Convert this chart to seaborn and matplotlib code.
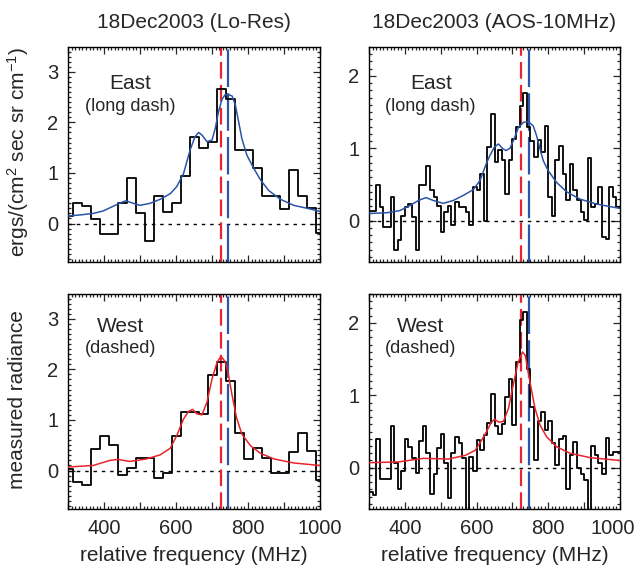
import numpy as np
import matplotlib
matplotlib.use('Agg')
import matplotlib.pyplot as plt
from matplotlib.ticker import MultipleLocator, FuncFormatter
from matplotlib.transforms import ScaledTranslation
import seaborn as sns

sns.set_style('ticks')
plt.rcParams['font.family'] = ['Liberation Sans', 'DejaVu Sans']
plt.rcParams['mathtext.fontset'] = 'custom'
plt.rcParams['mathtext.rm'] = 'Liberation Sans'
plt.rcParams['mathtext.it'] = 'Liberation Sans:italic'
plt.rcParams['lines.scale_dashes'] = False

# line centre markers (MHz)
west_center = 725
east_center = 745

# Lo-Res spectra: 25 MHz bins (first and last bins cut by the axis)
lores_edges = np.concatenate([[300], np.arange(315, 991, 25), [1000]])
east_lores = [0.15, 0.40, 0.34, 0.09, -0.20, -0.20, 0.40, 0.91, 0.20, -0.35,
              0.54, 0.23, 0.41, 0.94, 1.71, 1.50, 1.61, 2.65, 2.46, 1.45,
              1.45, 1.09, 0.54, 0.54, 0.28, 1.06, 0.55, 0.30, -0.18]
west_lores = [0.03, -0.23, -0.28, 0.42, 0.69, 0.51, -0.08, 0.05, 0.24, 0.24,
              -0.15, -0.05, 0.68, 1.15, 1.15, 1.12, 1.89, 2.15, 1.78, 0.74,
              0.23, 0.44, 0.24, -0.05, -0.05, 0.36, 0.74, 0.38, -0.18]

# AOS spectra: 10 MHz bins (first bin lies just left of the axis)
aos_edges = np.arange(290, 1001, 10)
east_aos = [-0.52,
            0.13, 0.13, 0.50, 0.19, -0.09, -0.09, 0.33, -0.41, -0.27, 0.07,
            0.19, 0.23, 0.05, -0.41, 0.50, 0.50, 0.75, 0.43, 0.33, 0.21,
            -0.16, 0.12, 0.21, -0.06, 0.26, 0.19, 0.19, 0.12, -0.06, 0.47,
            0.42, 0.65, 0.00, 1.02, 1.47, 0.81, 0.98, 0.84, 0.37, 0.84,
            1.13, 1.30, 1.58, 1.77, 1.29, 1.10, 0.88, 1.11, 0.95, 1.31,
            0.33, 0.07, 0.84, 1.03, 0.65, 0.28, 0.79, 0.42, 0.28, 0.12,
            0.01, 0.86, 0.19, 0.23, 0.46, -0.22, -0.25, 0.46, 0.33, 0.19]
west_aos = [-0.33,
            -0.33, -0.38, 0.40, -0.16, -0.16, -0.16, 0.57, 0.07, -0.30, -0.04,
            0.40, 0.29, 0.14, -0.07, 0.37, 0.58, 0.20, -0.36, -0.09, 0.27,
            0.47, 0.06, -0.42, 0.20, 0.42, 0.34, 0.13, -0.75, 0.15, -0.04,
            0.39, 0.25, 0.45, 0.62, 1.02, 0.57, 0.46, 0.60, 0.98, 1.23,
            0.59, 1.46, 2.04, 2.15, 1.36, 0.84, 0.10, 0.64, 0.77, 0.52,
            0.64, 0.34, 0.04, 0.40, 0.44, -0.29, 0.18, 0.36, -0.01, -0.08,
            -0.17, -0.75, 0.30, 0.18, 0.06, -0.08, 0.41, 0.17, 0.22, 0.22]

# model fits, sampled from the figure
east_lores_fit_x = [300, 333, 370, 398, 425, 449, 461, 477, 500, 528, 556, 584,
                    602, 621, 639, 653, 663, 672, 686, 700, 709, 718, 728, 737,
                    746, 756, 765, 774, 783, 797, 816, 835, 858, 890, 927, 965, 1000]
east_lores_fit_y = [0.15, 0.17, 0.20, 0.25, 0.34, 0.42, 0.45, 0.41, 0.36, 0.40, 0.48, 0.59,
                    0.73, 0.99, 1.45, 1.72, 1.80, 1.75, 1.62, 1.65, 1.88, 2.21, 2.46, 2.55,
                    2.55, 2.52, 2.34, 2.01, 1.68, 1.35, 1.09, 0.86, 0.65, 0.48, 0.36, 0.30, 0.24]
east_aos_fit_x = [300, 349, 386, 414, 438, 459, 479, 507, 535, 563, 591, 610,
                  628, 637, 650, 661, 672, 682, 693, 703, 717, 731, 744, 758,
                  767, 777, 786, 800, 823, 851, 888, 935, 1000]
east_aos_fit_y = [0.10, 0.11, 0.14, 0.21, 0.28, 0.32, 0.28, 0.24, 0.28, 0.35, 0.43, 0.56,
                  0.80, 0.90, 1.02, 1.06, 1.00, 0.97, 1.00, 1.11, 1.29, 1.36, 1.37, 1.31,
                  1.18, 0.99, 0.83, 0.69, 0.53, 0.40, 0.30, 0.23, 0.17]
west_lores_fit_x = [300, 370, 416, 439, 472, 518, 556, 584, 602, 621, 635, 646,
                    658, 672, 686, 700, 714, 725, 737, 746, 756, 768, 783, 807,
                    835, 872, 927, 1000]
west_lores_fit_y = [0.07, 0.10, 0.20, 0.22, 0.18, 0.23, 0.31, 0.44, 0.69, 1.02, 1.17, 1.21,
                    1.12, 1.10, 1.35, 1.81, 2.14, 2.26, 2.15, 1.88, 1.48, 1.05, 0.72, 0.49,
                    0.34, 0.23, 0.15, 0.10]
west_aos_fit_x = [300, 382, 452, 521, 568, 596, 614, 628, 640, 650, 662, 675,
                  689, 702, 716, 728, 736, 744, 754, 763, 777, 795, 823, 861, 916, 1000]
west_aos_fit_y = [0.07, 0.08, 0.13, 0.12, 0.17, 0.24, 0.38, 0.50, 0.62, 0.67, 0.63, 0.64,
                  0.82, 1.14, 1.46, 1.60, 1.55, 1.32, 1.05, 0.82, 0.59, 0.43, 0.29, 0.20, 0.14, 0.10]

blue = '#2a55a8'
red = '#e8242c'

fig = plt.figure(figsize=(6.38, 5.73), dpi=100)
W, H = 638, 573
def place(x0, y0, x1, y1):
    return fig.add_axes([x0 / W, 1 - y1 / H, (x1 - x0) / W, (y1 - y0) / H])

ax1 = place(68, 47, 320, 262)
ax2 = place(369, 47, 620, 262)
ax3 = place(68, 294, 320, 509)
ax4 = place(369, 294, 620, 509)

panels = [
    (ax1, lores_edges, east_lores, east_lores_fit_x, east_lores_fit_y, blue, (-0.76, 3.49), 'East', '(long dash)'),
    (ax2, aos_edges, east_aos, east_aos_fit_x, east_aos_fit_y, blue, (-0.57, 2.40), 'East', '(long dash)'),
    (ax3, lores_edges, west_lores, west_lores_fit_x, west_lores_fit_y, red, (-0.76, 3.49), 'West', '(dashed)'),
    (ax4, aos_edges, west_aos, west_aos_fit_x, west_aos_fit_y, red, (-0.57, 2.40), 'West', '(dashed)'),
]

for ax, edges, vals, fx, fy, col, ylim, name, style in panels:
    ax.axhline(0, color='black', lw=1.0, ls=(0, (2.5, 3.5)), zorder=1)
    ax.axvline(west_center, color=red, lw=1.6, ls=(0, (12, 4.5)), zorder=2)
    ax.axvline(east_center, color=blue, lw=1.6, ls=(0, (27, 4.5)), zorder=2)
    sns.lineplot(x=edges, y=np.append(vals, vals[-1]), drawstyle='steps-post',
                 estimator=None, sort=False, color='black', lw=1.3, ax=ax, zorder=3)
    sns.lineplot(x=fx, y=fy, estimator=None, sort=False, color=col, lw=1.1, ax=ax, zorder=4)
    ax.set_xlim(300, 1000)
    ax.set_ylim(*ylim)
    ax.set_xlabel('')
    ax.set_ylabel('')
    ax.xaxis.set_major_locator(MultipleLocator(100))
    ax.xaxis.set_minor_locator(MultipleLocator(10))
    ax.xaxis.set_major_formatter(FuncFormatter(lambda v, p: f'{int(round(v))}' if round(v) % 200 == 0 else ''))
    ax.yaxis.set_major_locator(MultipleLocator(1))
    ax.yaxis.set_minor_locator(MultipleLocator(0.1))
    ax.tick_params(which='both', direction='in', top=True, right=True, width=0.9, labelsize=14.5, pad=7)
    ax.tick_params(which='major', length=5)
    ax.tick_params(which='minor', length=2.2)
    for sp in ax.spines.values():
        sp.set_linewidth(1.0)
        sp.set_color('black')
    y_name = 0.83 if name == 'East' else 0.848
    y_style = 0.725 if name == 'East' else 0.747
    x_name = 0.246 if name == 'East' else 0.207
    ax.text(x_name, y_name, name, transform=ax.transAxes, ha='center', va='center', fontsize=15)
    ax.text(x_name, y_style, style, transform=ax.transAxes, ha='center', va='center', fontsize=13)

for ax in (ax1, ax2):
    ax.tick_params(labelbottom=False)
for ax in (ax3, ax4):
    ax.set_xlabel('relative frequency (MHz)', fontsize=15, labelpad=6)

ax1.set_title('18Dec2003 (Lo-Res)', fontsize=15, pad=14)
ax2.set_title('18Dec2003 (AOS-10MHz)', fontsize=15, pad=14)

fig.text(18 / W, 1 - 152 / H, r'ergs/(cm$^2$ sec sr cm$^{-1}$)', rotation=90,
         ha='center', va='center', fontsize=15)
fig.text(18 / W, 1 - 400 / H, 'measured radiance', rotation=90,
         ha='center', va='center', fontsize=15)

# keep the last label of the right panel inside the figure, as in the original
fig.canvas.draw()
for lab in ax4.get_xticklabels():
    if lab.get_text() == '1000':
        lab.set_transform(lab.get_transform() + ScaledTranslation(-0.07, 0, fig.dpi_scale_trans))

fig.savefig('out.png', dpi=100, facecolor='white')
